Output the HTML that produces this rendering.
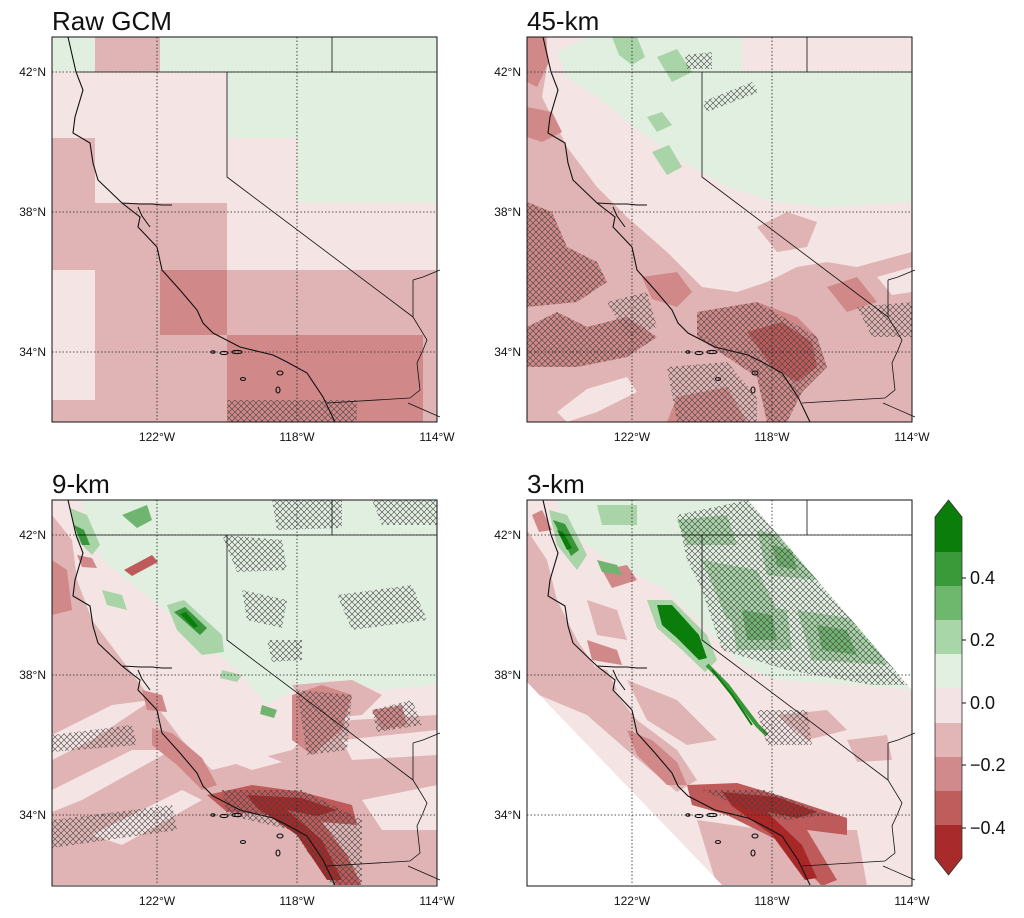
<!DOCTYPE html>
<html><head><meta charset="utf-8"><style>
html,body{margin:0;padding:0;background:#fff}
svg{display:block}
text{font-family:"Liberation Sans",sans-serif;fill:#111}
</style></head><body>
<svg width="1024" height="918" viewBox="0 0 1024 918" xmlns="http://www.w3.org/2000/svg">
<defs>
<clipPath id="clip"><rect x="0" y="0" width="385" height="385"/></clipPath>
<clipPath id="dom"><polygon points="0,0 221,0 385,190 385,385 195,385 0,182"/></clipPath>
<pattern id="h" patternUnits="userSpaceOnUse" width="6" height="6">
<path d="M0,0 L6,6 M6,0 L0,6" stroke="#444" stroke-width="0.6" fill="none"/>
</pattern>
<g id="geo" fill="none" stroke="#111" stroke-width="1.1">
<path d="M16,0 L24,35 L31,53 L23,80 L21,96 L38,106 L41,126 L46,143 L70,166 L88,180 L86,190 L105,210 L110,233 L128,253 L145,273 L151,286 L161,296 L188,310 L221,318 L235,325 L255,336 L271,360 L283,385"/>
<path d="M70,166 L88,167 L100,167 L110,168 L120,168 M86,170 L90,179 L98,190" stroke-width="1"/>
<path d="M25,35 L385,35 M280,0 L280,35 M175,35 L175,140 L361,280" stroke-width="0.8"/>
<path d="M361,243 L371,240 L388,233 M361,243 L361,280 L375,303 L371,313 L365,326 L368,353 L358,361 M275,366 L358,361 M356,366 L388,380" stroke-width="0.8"/>
<ellipse cx="161" cy="315" rx="2" ry="1.2"/><ellipse cx="172" cy="316" rx="4" ry="1.6"/><ellipse cx="185" cy="315" rx="5" ry="1.6"/>
<ellipse cx="228" cy="336" rx="3" ry="2"/><ellipse cx="191" cy="342" rx="2.5" ry="1.5"/><ellipse cx="226" cy="353" rx="2" ry="3"/>
</g>
<g id="grid" stroke="#222" stroke-width="0.8" stroke-dasharray="1.5,2" fill="none">
<path d="M105,0 V385 M245,0 V385 M0,35 H385 M0,175 H385 M0,315 H385"/>
</g>
</defs>
<rect width="1024" height="918" fill="#fff"/>

<text x="52" y="30" font-size="26">Raw GCM</text>
<text x="527" y="30" font-size="26">45-km</text>
<text x="52" y="493" font-size="26">9-km</text>
<text x="527" y="493" font-size="26">3-km</text>

<!-- Panel 1 -->
<g transform="translate(52,37)">
<g clip-path="url(#clip)">
<rect x="0" y="0" width="385" height="385" fill="#f4e4e4"/>
<rect x="0" y="0" width="43" height="35" fill="#e1efe1"/>
<rect x="43" y="0" width="65" height="35" fill="#e0b4b4"/>
<rect x="108" y="0" width="277" height="35" fill="#e1efe1"/>
<rect x="175" y="35" width="210" height="66" fill="#e1efe1"/>
<rect x="245" y="101" width="140" height="65" fill="#e1efe1"/>
<rect x="0" y="101" width="43" height="65" fill="#e0b4b4"/>
<rect x="0" y="166" width="175" height="67" fill="#e0b4b4"/>
<rect x="43" y="233" width="65" height="152" fill="#e0b4b4"/>
<rect x="108" y="233" width="67" height="65" fill="#d08888"/>
<rect x="175" y="233" width="210" height="65" fill="#e0b4b4"/>
<rect x="108" y="298" width="67" height="87" fill="#e0b4b4"/>
<rect x="175" y="298" width="196" height="87" fill="#d08888"/>
<rect x="371" y="298" width="14" height="87" fill="#e0b4b4"/>
<rect x="0" y="363" width="43" height="22" fill="#e0b4b4"/>
<rect x="175" y="363" width="130" height="22" fill="url(#h)"/>
</g>
<use href="#grid"/><use href="#geo"/>
<rect x="0" y="0" width="385" height="385" fill="none" stroke="#111" stroke-width="1"/>
</g>

<!-- Panel 2 -->
<g transform="translate(527,37)">
<g clip-path="url(#clip)">
<rect x="0" y="0" width="385" height="385" fill="#f4e4e4"/>
<polygon fill="#e0b4b4" points="0,0 20,0 20,30 15,60 40,110 70,150 100,180 140,215 175,250 210,255 240,245 270,230 300,225 330,230 385,215 385,385 0,385"/>
<polygon fill="#e0b4b4" points="230,190 260,175 290,185 280,210 250,215"/>
<polygon fill="#e1efe1" points="30,15 60,0 215,0 215,35 385,35 385,165 300,170 250,165 200,150 165,130 120,100 70,60 40,40"/>
<polygon fill="#d08888" points="0,0 18,0 22,25 10,50 0,45"/>
<polygon fill="#d08888" points="0,70 25,75 35,95 15,105 0,100"/>
<polygon fill="#d08888" points="0,165 25,175 40,210 70,225 80,245 50,265 0,270"/>
<polygon fill="#d08888" points="0,290 30,275 60,290 100,280 130,300 100,320 50,330 0,330"/>
<polygon fill="#d08888" points="115,240 150,235 165,255 150,270 125,262"/>
<polygon fill="#d08888" points="170,275 200,270 230,265 270,280 290,300 300,330 275,355 260,385 240,385 230,340 200,320 170,300"/>
<polygon fill="#bf5a5a" points="220,295 255,285 285,305 290,330 270,345 245,330"/>
<polygon fill="#d08888" points="150,360 200,350 220,385 140,385"/>
<polygon fill="#d08888" points="300,250 330,240 350,265 320,275"/>
<polygon fill="#f4e4e4" points="30,375 60,352 100,340 110,355 70,375 40,385"/>
<polygon fill="#f4e4e4" points="350,240 385,230 385,255 365,258"/>
<polygon fill="#a8d4a8" points="85,0 110,0 118,20 105,28 92,18"/>
<polygon fill="#a8d4a8" points="130,20 150,12 165,35 145,45"/>
<polygon fill="#a8d4a8" points="120,80 135,75 145,88 130,95"/>
<polygon fill="#a8d4a8" points="125,115 142,108 155,130 140,138"/>
<g fill="url(#h)">
<polygon points="0,165 25,175 40,210 70,225 80,245 50,265 0,270"/>
<polygon points="0,290 30,275 60,290 100,280 130,300 100,320 50,330 0,330"/>
<polygon points="170,275 230,265 290,300 300,330 275,355 260,385 240,385 230,340 200,320 170,300"/>
<polygon points="140,330 200,325 230,360 230,385 150,385"/>
<polygon points="330,270 385,265 385,300 345,300"/>
<polygon points="158,18 185,15 185,32 160,32"/>
<polygon points="175,65 225,45 232,55 180,75"/>
<polygon points="80,265 120,255 130,290 100,300"/>
</g>
</g>
<use href="#grid"/><use href="#geo"/>
<rect x="0" y="0" width="385" height="385" fill="none" stroke="#111" stroke-width="1"/>
</g>

<!-- Panel 3 -->
<g transform="translate(52,500)">
<g clip-path="url(#clip)">
<rect x="0" y="0" width="385" height="386" fill="#f4e4e4"/>
<polygon fill="#e1efe1" points="30,0 385,0 385,185 330,190 280,180 240,190 215,205 190,175 150,140 100,100 50,60 35,30"/>
<polygon fill="#e0b4b4" points="0,15 20,40 25,80 40,120 70,160 100,200 130,240 160,270 200,260 240,250 260,230 300,220 385,215 385,386 0,386"/>
<polygon fill="#e0b4b4" points="240,185 300,180 330,195 310,215 260,220"/>
<polygon fill="#f4e4e4" points="120,200 160,225 200,250 230,262 200,270 160,255 130,230"/>
<polygon fill="#f4e4e4" points="0,235 60,205 100,200 40,240 0,260"/>
<polygon fill="#f4e4e4" points="0,290 80,250 120,250 30,300 0,312"/>
<polygon fill="#f4e4e4" points="40,335 130,290 150,300 70,345"/>
<polygon fill="#f4e4e4" points="290,240 385,230 385,255 300,260"/>
<polygon fill="#f4e4e4" points="310,300 385,285 385,330 330,330"/>
<polygon fill="#d08888" points="0,60 15,70 20,110 0,115"/>
<polygon fill="#d08888" points="100,228 120,233 150,258 165,285 150,290 125,265 100,245"/>
<polygon fill="#d08888" points="90,190 110,195 115,212 95,210"/>
<polygon fill="#d08888" points="240,195 270,185 300,195 290,230 260,255 240,240"/>
<polygon fill="#d08888" points="320,210 350,205 355,225 330,230"/>
<polygon fill="#bf5a5a" points="72,70 100,55 106,62 80,76"/>
<polygon fill="#bf5a5a" points="155,295 200,285 250,292 300,305 305,325 270,322 295,355 310,386 285,386 255,340 220,315 175,312"/>
<polygon fill="#a82828" points="195,295 250,298 285,310 265,316 235,310 270,340 290,380 275,380 245,335 205,308"/>
<polygon fill="#d08888" points="25,55 40,58 45,68 30,67"/>
<polygon fill="#a8d4a8" points="18,8 35,15 48,45 40,55 25,40"/>
<polygon fill="#3a963a" points="22,25 32,30 38,45 30,45"/>
<polygon fill="#6fb56f" points="70,15 95,5 100,20 85,28"/>
<polygon fill="#a8d4a8" points="115,105 132,100 170,135 172,152 150,155 125,130"/>
<polygon fill="#3a963a" points="122,112 133,107 155,128 148,135"/>
<polygon fill="#0b7d0b" points="128,114 134,112 146,126 142,128"/>
<polygon fill="#a8d4a8" points="50,90 70,95 75,110 55,105"/>
<polygon fill="#a8d4a8" points="170,170 190,175 185,182 168,178"/>
<polygon fill="#6fb56f" points="210,205 225,210 222,218 208,214"/>
<g fill="url(#h)">
<polygon points="170,35 230,40 235,70 185,72"/>
<polygon points="190,90 235,100 230,128 195,120"/>
<polygon points="285,95 360,85 375,120 300,130"/>
<polygon points="320,0 385,0 385,25 330,25"/>
<polygon points="220,0 290,0 290,28 225,30"/>
<polygon points="215,140 250,140 250,160 220,162"/>
<polygon points="0,235 80,225 85,245 0,252"/>
<polygon points="0,320 120,305 125,330 0,348"/>
<polygon points="245,190 300,195 295,250 255,255"/>
<polygon points="170,290 250,290 310,320 310,386 280,386 240,330 175,315"/>
<polygon points="320,210 360,200 370,225 325,232"/>
</g>
</g>
<use href="#grid"/><use href="#geo"/>
<rect x="0" y="0" width="385" height="386" fill="none" stroke="#111" stroke-width="1"/>
</g>

<!-- Panel 4 -->
<g transform="translate(527,500)">
<g clip-path="url(#clip)">
<g clip-path="url(#dom)">
<rect x="0" y="0" width="385" height="386" fill="#f4e4e4"/>
<polygon fill="#e1efe1" points="30,0 221,0 385,190 330,185 250,180 215,165 180,130 140,90 80,60 40,30"/>
<polygon fill="#a8d4a8" points="175,60 230,70 250,110 200,120"/>
<polygon fill="#a8d4a8" points="200,100 260,110 265,150 210,150"/>
<polygon fill="#a8d4a8" points="270,110 335,120 360,165 285,160"/>
<polygon fill="#a8d4a8" points="230,30 270,40 290,80 240,75"/>
<polygon fill="#a8d4a8" points="150,20 200,15 210,45 160,45"/>
<polygon fill="#a8d4a8" points="70,5 110,5 110,25 75,25"/>
<polygon fill="#6fb56f" points="215,110 245,115 250,140 220,140"/>
<polygon fill="#6fb56f" points="290,125 320,130 330,155 295,150"/>
<polygon fill="#6fb56f" points="245,45 265,50 270,70 250,66"/>
<polygon fill="#e0b4b4" points="0,30 20,60 30,100 50,140 70,170 110,220 150,250 170,280 150,292 100,250 60,215 0,190"/>
<polygon fill="#e0b4b4" points="100,180 150,200 190,240 160,245 120,220"/>
<polygon fill="#e0b4b4" points="40,160 80,170 90,190 55,190"/>
<polygon fill="#e0b4b4" points="60,100 90,110 100,140 70,135"/>
<polygon fill="#e0b4b4" points="250,215 300,210 320,230 280,240"/>
<polygon fill="#e0b4b4" points="320,240 360,235 365,260 330,262"/>
<polygon fill="#e0b4b4" points="170,320 240,330 330,330 340,386 190,386"/>
<polygon fill="#d08888" points="100,230 125,240 150,262 160,285 140,285 110,255"/>
<polygon fill="#d08888" points="75,70 100,65 110,80 85,88"/>
<polygon fill="#d08888" points="60,140 90,150 95,165 65,160"/>
<polygon fill="#bf5a5a" points="160,285 210,283 260,298 320,318 320,335 280,330 310,380 295,386 250,340 200,315 165,305"/>
<polygon fill="#a82828" points="195,292 250,297 290,312 270,318 240,312 275,345 290,378 278,380 245,335 205,306"/>
<polygon fill="#a8d4a8" points="22,10 40,15 60,55 50,70 30,45"/>
<polygon fill="#3a963a" points="26,20 38,24 52,50 44,56"/>
<polygon fill="#0b7d0b" points="30,30 36,32 45,48 40,50"/>
<polygon fill="#6fb56f" points="70,60 90,65 95,75 75,72"/>
<polygon fill="#a8d4a8" points="120,100 145,100 180,135 190,160 178,172 155,150 130,128"/>
<polygon fill="#0b7d0b" points="130,105 145,105 172,135 180,158 172,160 150,138 135,125"/>
<path d="M180,165 L200,185 L215,205 L230,225 L240,235" stroke="#3a963a" stroke-width="4" fill="none"/>
<path d="M185,170 L205,195 L225,225" stroke="#0b7d0b" stroke-width="2" fill="none"/>
<polygon fill="#d08888" points="5,15 15,10 25,30 12,32"/>
<g fill="url(#h)">
<polygon points="150,15 221,0 385,185 345,185 260,170 195,150 175,90 160,60"/>
<polygon points="175,290 240,290 300,315 260,320 220,310"/>
<polygon points="230,210 280,210 285,245 240,245"/>
</g>
</g>
</g>
<use href="#grid"/><use href="#geo"/>
<rect x="0" y="0" width="385" height="386" fill="none" stroke="#111" stroke-width="1"/>
</g>

<g font-size="12" text-anchor="end">
<text x="46" y="76">42°N</text><text x="46" y="216">38°N</text><text x="46" y="356">34°N</text>
<text x="521" y="76">42°N</text><text x="521" y="216">38°N</text><text x="521" y="356">34°N</text>
<text x="46" y="539">42°N</text><text x="46" y="679">38°N</text><text x="46" y="819">34°N</text>
<text x="521" y="539">42°N</text><text x="521" y="679">38°N</text><text x="521" y="819">34°N</text>
</g>
<g font-size="12" text-anchor="middle">
<text x="157" y="441">122°W</text><text x="297" y="441">118°W</text><text x="437" y="441">114°W</text>
<text x="632" y="441">122°W</text><text x="772" y="441">118°W</text><text x="912" y="441">114°W</text>
<text x="157" y="905">122°W</text><text x="297" y="905">118°W</text><text x="437" y="905">114°W</text>
<text x="632" y="905">122°W</text><text x="772" y="905">118°W</text><text x="912" y="905">114°W</text>
</g>

<g>
<polygon points="935,517 948.5,500 962,517" fill="#0b7d0b"/>
<rect x="935" y="517" width="27" height="35" fill="#0b7d0b"/>
<rect x="935" y="552" width="27" height="34" fill="#3a9a3a"/>
<rect x="935" y="586" width="27" height="34" fill="#6db86d"/>
<rect x="935" y="620" width="27" height="34" fill="#a9d6a9"/>
<rect x="935" y="654" width="27" height="34" fill="#e2f0e2"/>
<rect x="935" y="688" width="27" height="35" fill="#f4e3e4"/>
<rect x="935" y="723" width="27" height="34" fill="#e2b5b6"/>
<rect x="935" y="757" width="27" height="34" fill="#d08a8b"/>
<rect x="935" y="791" width="27" height="34" fill="#bf5c5c"/>
<rect x="935" y="825" width="27" height="33" fill="#a82a2a"/>
<polygon points="935,858 948.5,875 962,858" fill="#a82a2a"/>
<polygon points="935,517 948.5,500 962,517 962,858 948.5,875 935,858" fill="none" stroke="#333" stroke-width="0.8"/>
<path d="M962,578 h4 M962,640 h4 M962,703 h4 M962,765 h4 M962,828 h4" stroke="#111" stroke-width="1"/>
<g font-size="18">
<text x="970" y="584">0.4</text>
<text x="970" y="646">0.2</text>
<text x="970" y="709">0.0</text>
<text x="970" y="771">−0.2</text>
<text x="970" y="834">−0.4</text>
</g>
</g>
</svg>
</body></html>
